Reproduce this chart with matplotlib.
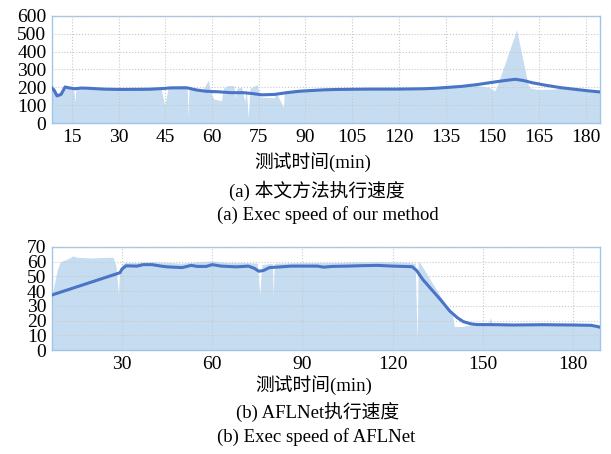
import matplotlib
matplotlib.use("Agg")
import matplotlib.pyplot as plt

plt.rcParams['font.family'] = ['Liberation Serif', 'Noto Sans CJK SC']

# (a) 本文方法 —— 原始速度(填充) 与 平滑曲线
a_raw_t = [8.6, 9.5, 10.5, 11.5, 12.5, 14, 15.5, 16, 16.3, 20, 25, 30, 35, 40, 43.5, 44.8, 46,
           50, 51, 52, 52.3, 52.6, 55, 57, 58.8, 59.5, 60.5, 63, 63.7, 65, 67, 67.5, 68, 69.5,
           70.5, 71, 71.6, 72.2, 74.5, 75.2, 76, 80, 80.5, 82.9, 83.3, 86, 90, 100, 110, 120,
           122, 123, 130, 135, 140, 145, 149, 150.8, 151.6, 157.8, 161.5, 162.3, 165, 170, 172,
           177, 181, 184.6]
a_raw_v = [205, 195, 165, 175, 208, 205, 200, 120, 200, 203, 198, 197, 200, 203, 205, 100, 205,
           210, 212, 205, 30, 200, 195, 185, 240, 180, 135, 125, 195, 210, 210, 140, 195, 200,
           120, 195, 30, 195, 215, 150, 145, 142, 175, 90, 180, 185, 190, 193, 193, 192,
           185, 193, 196, 198, 205, 210, 200, 180, 210, 522, 215, 195, 188, 190, 198,
           188, 180, 176]
a_line_t = [8.6, 9.2, 10.2, 11.5, 12.8, 14, 16, 18, 20, 25, 30, 40, 44, 47, 52, 55, 58, 62, 66,
            70, 73, 76, 80, 84, 88, 92, 96, 100, 110, 120, 128, 132, 136, 140, 145, 150, 154,
            157.4, 160, 163, 167, 172, 177, 181, 184.6]
a_line_v = [196, 185, 152, 160, 202, 197, 192, 196, 195, 190, 188, 189, 193, 197, 197, 185, 178,
            175, 170, 170, 165, 158, 160, 170, 178, 182, 186, 188, 190, 190, 192, 195, 200, 205,
            215, 228, 238, 245, 238, 225, 212, 198, 188, 180, 174]

# (b) AFLNet
b_raw_t = [6.7, 7.5, 8.5, 9.5, 12, 13.7, 15, 20, 25, 27, 28, 28.8, 29.2, 30, 31, 35, 40, 45, 50,
           55, 60, 65, 70, 75, 75.8, 76.5, 80, 80.3, 80.6, 90, 100, 110, 120, 125, 127.5, 128.2,
           128.5, 129, 140, 140.5, 143, 146, 147, 152, 152.5, 153, 160, 170, 180, 188, 189]
b_raw_v = [37, 45, 55, 60, 62, 64, 63, 62.5, 63, 63, 57, 38, 55, 58, 59.5, 59.5, 60, 59.5, 59,
           60, 60.5, 59.5, 59.5, 59, 38, 58, 59, 36, 59, 59.5, 59.5, 60, 60, 59.5, 59, 6,
           60, 59.5, 23, 16, 16, 17, 18.5, 18.5, 22, 18.5, 18, 18.3, 18, 17, 16]
b_line_t = [6.7, 29.3, 30, 31.3, 35, 37, 40, 43, 45, 50, 53, 55, 58, 60, 63, 68, 72, 74, 75.5,
            77, 79, 83, 86, 90, 95, 97, 100, 105, 110, 115, 120, 126.5, 128, 130, 133, 136, 139,
            141.5, 143.5, 146, 148, 155, 160, 170, 180, 186, 188, 189]
b_line_v = [37.4, 52.5, 55, 57.2, 57, 58, 58, 57, 56.5, 56, 57.5, 56.8, 56.8, 58, 57, 56.5, 57,
            55.5, 53.5, 54, 56, 56.5, 57, 57, 57, 56.3, 56.8, 57, 57.3, 57.5, 57, 56.6, 54, 48,
            41, 34, 26.5, 22, 19.3, 17.8, 17.3, 17.2, 17, 17.2, 17, 16.8, 16, 15.5]

fill_c = '#c6ddf1'
line_c = '#4a74c6'
spine_c = '#9fc6e8'

fig = plt.figure(figsize=(6.11, 4.54), dpi=100)
ax1 = fig.add_axes([0.0851, 0.729, 0.897, 0.236])
ax2 = fig.add_axes([0.0851, 0.229, 0.897, 0.227])


def style(ax, xlim, ylim, xt, yt):
    ax.set_xlim(*xlim)
    ax.set_ylim(*ylim)
    ax.set_xticks(xt)
    ax.set_yticks(yt)
    ax.grid(True, linestyle=':', color='#c8c8c8', linewidth=0.8)
    ax.set_axisbelow(False)
    ax.tick_params(length=0, labelsize=14, pad=4)
    for s in ax.spines.values():
        s.set_color(spine_c)
        s.set_linewidth(1.0)


ax1.fill_between(a_raw_t, a_raw_v, 0, color=fill_c, linewidth=0, zorder=1)
ax1.plot(a_line_t, a_line_v, color=line_c, linewidth=2.2, zorder=3)
style(ax1, (8.6, 184.6), (0, 600), range(15, 181, 15), range(0, 601, 100))

ax2.fill_between(b_raw_t, b_raw_v, 0, color=fill_c, linewidth=0, zorder=1)
ax2.plot(b_line_t, b_line_v, color=line_c, linewidth=2.2, zorder=3)
style(ax2, (6.7, 189), (0, 70), range(30, 181, 30), range(0, 71, 10))

fs = 13.5
fig.text(0.511, 1 - 162 / 454, '测试时间(min)', ha='center', va='center', fontsize=fs)
fig.text(0.519, 1 - 191 / 454, '(a) 本文方法执行速度', ha='center', va='center', fontsize=fs)
fig.text(0.537, 1 - 215 / 454, '(a) Exec speed of our method', ha='center', va='center', fontsize=fs)
fig.text(0.514, 1 - 385 / 454, '测试时间(min)', ha='center', va='center', fontsize=fs)
fig.text(0.519, 1 - 413 / 454, '(b) AFLNet执行速度', ha='center', va='center', fontsize=fs)
fig.text(0.517, 1 - 437 / 454, '(b) Exec speed of AFLNet', ha='center', va='center', fontsize=fs)

fig.savefig('out.png', dpi=100)
